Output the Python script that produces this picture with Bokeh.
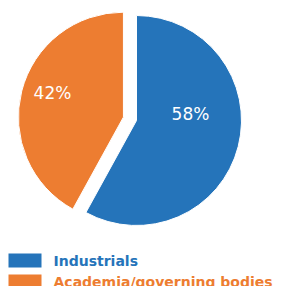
import math
from bokeh.plotting import figure
from bokeh.models import Range1d, ColumnDataSource
from bokeh.core.properties import value
from bokeh.embed import file_html
from bokeh.resources import INLINE

categories = ["Industrials", "Academia/governing bodies"]
shares = [58, 42]
colors = ["#2574BA", "#ED7D31"]
explode = [0.0, 13.5]

W, H = 283, 286
p = figure(width=W, height=H, output_backend="svg", toolbar_location=None,
           x_range=Range1d(0, W), y_range=Range1d(0, H), min_border=0,
           outline_line_color=None)
p.axis.visible = False
p.grid.visible = False
p.background_fill_color = "white"
p.border_fill_color = "white"

cx, cy, R = 136, H - 120, 105
total = sum(shares)
start = math.pi / 2
xs, ys, sa, ea = [], [], [], []
for s, ex in zip(shares, explode):
    sweep = 2 * math.pi * s / total
    a0 = start - sweep
    a1 = start
    mid = (a0 + a1) / 2
    xs.append(cx + ex * math.cos(mid))
    ys.append(cy + ex * math.sin(mid))
    sa.append(a0)
    ea.append(a1)
    start = a0

src = ColumnDataSource(dict(x=xs, y=ys, sa=sa, ea=ea, color=colors))
p.wedge(x="x", y="y", radius=R, start_angle="sa", end_angle="ea",
        fill_color="color", line_color="white", line_width=1, source=src)

# percentage labels
lab_x = [190, 52]
lab_y = [H - 113, H - 92]
p.text(x=lab_x, y=lab_y, text=[f"{s}%" for s in shares], text_color="white",
       text_font=value("DejaVu Sans"), text_font_size="17px",
       text_align="center", text_baseline="middle")

# legend
leg_y = [H - 260, H - 281]
p.rect(x=[24.5, 24.5], y=leg_y, width=33, height=14, fill_color=colors, line_color=None)
p.text(x=[53, 53], y=leg_y, text=categories, text_color=colors,
       text_font=value("DejaVu Sans"), text_font_style="bold", text_font_size="14px",
       text_align="left", text_baseline="middle")

open("out.html", "w").write(file_html(p, INLINE))
